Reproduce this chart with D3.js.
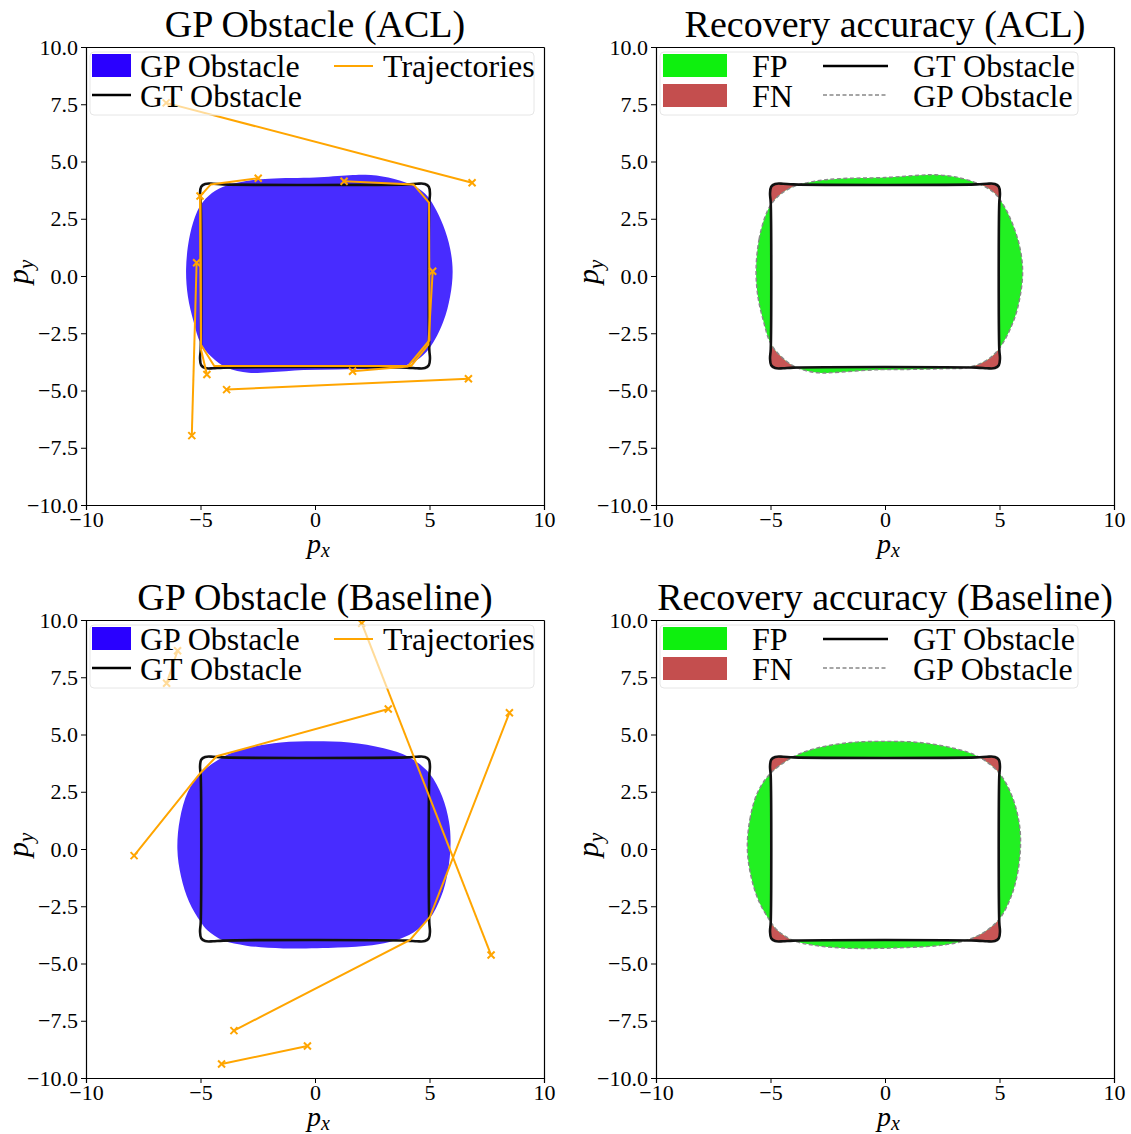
<!DOCTYPE html>
<head>
    <meta charset="utf-8">
    <style>
    body { margin: 0; background: #fff; }
    text { font-family: "Liberation Serif", "DejaVu Serif", serif; fill: #000; }
    .domain { stroke: #000; stroke-width: 1.2px; }
    .tick line { stroke: #000; stroke-width: 1px; }
    .tick text { font-family: "Liberation Serif", serif; font-size: 22px; }
    </style>
    <script src="https://d3js.org/d3.v7.min.js"></script>
</head>
<body>
    <svg width="1131" height="1134"></svg>
    <script>

    // ticks
    var xTicks = [-10, -5, 0, 5, 10];
    var yTicks = [-10, -7.5, -5, -2.5, 0, 2.5, 5, 7.5, 10];

    var gtOutline = [
      [-4.0, 4.0], [-4.45, 4.03], [-4.8, 4.02], [-4.97, 3.9], [-5.02, 3.6], [-4.99, 3.2],
      [-4.99, -3.2], [-5.02, -3.6], [-4.97, -3.9], [-4.8, -4.02], [-4.45, -4.03], [-4.0, -4.0],
      [4.0, -4.0], [4.45, -4.03], [4.8, -4.02], [4.97, -3.9], [5.02, -3.6], [4.99, -3.2],
      [4.99, 3.2], [5.02, 3.6], [4.97, 3.9], [4.8, 4.02], [4.45, 4.03], [4.0, 4.0]
    ];

    // GP obstacle boundary, ACL
    var gpAcl = [
      [-5.63, 0.3], [-5.5, 1.6], [-5.25, 2.55], [-4.99, 3.1], [-4.5, 3.62], [-3.86, 3.95],
      [-3.0, 4.15], [-2.0, 4.25], [0, 4.3], [1.5, 4.4], [2.2, 4.42], [3.2, 4.3], [4.22, 3.97],
      [4.8, 3.6], [5.2, 3.05], [5.6, 2.2], [5.9, 1.2], [6.01, 0.2], [5.9, -0.9], [5.6, -2.0],
      [5.0, -3.15], [4.4, -3.7], [3.57, -4.0], [2.5, -4.05], [1.0, -4.08], [-0.5, -4.1],
      [-2.0, -4.2], [-2.9, -4.23], [-3.86, -4.0], [-4.5, -3.55], [-4.99, -2.95], [-5.3, -2.0],
      [-5.55, -0.9]
    ];

    // GP obstacle boundary, baseline
    var gpBase = [
      [-6.01, 0.0], [-5.9, 1.3], [-5.55, 2.5], [-5.0, 3.3], [-4.0, 4.03], [-3.0, 4.4],
      [-1.5, 4.65], [0, 4.7], [1.5, 4.65], [3.0, 4.4], [4.08, 4.03], [5.0, 3.3], [5.55, 2.3],
      [5.85, 1.2], [5.92, 0.25], [5.8, -1.0], [5.5, -2.1], [5.0, -3.05], [4.3, -3.65],
      [3.49, -4.0], [2.5, -4.2], [1.0, -4.3], [-1.38, -4.34], [-3.0, -4.22], [-4.0, -4.0],
      [-4.7, -3.55], [-5.0, -3.17], [-5.5, -2.3], [-5.85, -1.2]
    ];

    // trajectories, ACL
    var trajAcl = [
      [[-6.5, 7.56], [6.86, 4.07]],
      [[-5.38, -6.97], [-5.17, 0.58]],
      [[-2.48, 4.27], [-4.55, 4.0], [-5.0, 3.5], [-4.98, -3.2], [-4.72, -4.3]],
      [[-5.02, 3.49], [-4.98, -3.0], [-4.4, -3.93], [4.2, -3.93], [4.95, -3.0], [5.14, 0.21]],
      [[1.27, 4.14], [4.3, 4.0], [4.98, 3.2], [5.0, -2.8], [4.05, -3.95], [1.64, -4.16]],
      [[-3.86, -4.96], [6.7, -4.49]]
    ];

    // trajectories, baseline
    var trajBase = [
      [[-6.0, 8.66], [-6.48, 7.24]],
      [[2.04, 9.86], [7.69, -4.63]],
      [[-7.9, -0.29], [-5.02, 3.3], [-4.29, 4.05], [3.2, 6.11]],
      [[8.49, 5.95], [5.02, -2.96], [4.15, -3.97], [-3.54, -7.93]],
      [[-4.08, -9.39], [-0.33, -8.6]]
    ];

    var svg = d3.select("svg"),
        size = 458;

    var x = d3.scaleLinear().domain([-10, 10]).range([0, size]),
        y = d3.scaleLinear().domain([-10, 10]).range([size, 0]);

    var shapeLine = d3.line().x(function(d) { return x(d[0]); }).y(function(d) { return y(d[1]); })
        .curve(d3.curveCatmullRomClosed);
    var trajLine = d3.line().x(function(d) { return x(d[0]); }).y(function(d) { return y(d[1]); });

    var panels = [
      {left: 86, top: 47, title: "GP Obstacle (ACL)", kind: "gp", blob: gpAcl, traj: trajAcl},
      {left: 656, top: 47, title: "Recovery accuracy (ACL)", kind: "acc", blob: gpAcl},
      {left: 86, top: 620, title: "GP Obstacle (Baseline)", kind: "gp", blob: gpBase, traj: trajBase},
      {left: 656, top: 620, title: "Recovery accuracy (Baseline)", kind: "acc", blob: gpBase}
    ];

    var defs = svg.append("defs");

    panels.forEach(function(p, i) {
      var g = svg.append("g").attr("transform", "translate(" + p.left + "," + p.top + ")");

      defs.append("clipPath").attr("id", "clip" + i)
        .append("rect").attr("width", size).attr("height", size);
      defs.append("clipPath").attr("id", "blob" + i)
        .append("path").attr("d", shapeLine(p.blob));

      var plot = g.append("g").attr("clip-path", "url(#clip" + i + ")");

      if (p.kind == "gp") {
        plot.append("path").attr("d", shapeLine(p.blob)).attr("fill", "#482cff");
        plot.append("path").attr("d", shapeLine(gtOutline))
            .attr("fill", "none").attr("stroke", "#111").attr("stroke-width", 2.6);
        p.traj.forEach(function(t) {
          plot.append("path").attr("d", trajLine(t))
              .attr("fill", "none").attr("stroke", "#ffa500").attr("stroke-width", 2);
          [t[0], t[t.length - 1]].forEach(function(m) {
            plot.append("path")
                .attr("transform", "translate(" + x(m[0]) + "," + y(m[1]) + ")")
                .attr("d", "M-3.5,-3.5L3.5,3.5M-3.5,3.5L3.5,-3.5")
                .attr("stroke", "#ffa500").attr("stroke-width", 2);
          });
        });
      } else {
        plot.append("path").attr("d", shapeLine(gtOutline)).attr("fill", "#c85555");
        plot.append("path").attr("d", shapeLine(p.blob)).attr("fill", "#22f022");
        plot.append("path").attr("d", shapeLine(gtOutline)).attr("fill", "#fff")
            .attr("clip-path", "url(#blob" + i + ")");
        plot.append("path").attr("d", shapeLine(p.blob))
            .attr("fill", "none").attr("stroke", "#888").attr("stroke-width", 1.4)
            .attr("stroke-dasharray", "4,2.5");
        plot.append("path").attr("d", shapeLine(gtOutline))
            .attr("fill", "none").attr("stroke", "#111").attr("stroke-width", 2.6);
      }

      // axes
      g.append("g").attr("transform", "translate(0," + size + ")")
          .call(d3.axisBottom(x).tickValues(xTicks).tickSize(5).tickPadding(1).tickFormat(d3.format("d")));
      g.append("g")
          .call(d3.axisLeft(y).tickValues(yTicks).tickSize(5).tickPadding(3).tickFormat(d3.format(".1f")));
      g.append("g").attr("transform", "translate(" + size + ",0)")
          .call(d3.axisRight(y).tickValues([]).tickSizeOuter(0));
      g.append("g")
          .call(d3.axisTop(x).tickValues([]).tickSizeOuter(0));
      g.selectAll(".tick text").attr("font-family", null).attr("font-size", null);
      g.selectAll(".domain").attr("stroke", "#000");

      // title
      g.append("text").attr("x", size / 2).attr("y", -10)
          .attr("text-anchor", "middle").style("font-size", "38px").text(p.title);

      // axis labels
      var xl = g.append("text").attr("x", size / 2 - 8).attr("y", size + 48)
          .style("font-size", "28px");
      xl.append("tspan").style("font-style", "italic").text("p");
      xl.append("tspan").style("font-style", "italic").style("font-size", "20px").attr("dy", 4).text("x");
      var yl = g.append("text")
          .attr("transform", "translate(-58," + (size / 2 + 8) + ") rotate(-90)")
          .style("font-size", "30px");
      yl.append("tspan").style("font-style", "italic").text("p");
      yl.append("tspan").style("font-style", "italic").style("font-size", "21px").attr("dy", 5).text("y");

      // legend
      var lg = g.append("g").attr("transform", "translate(4,5)");
      if (p.kind == "gp") {
        lg.append("rect").attr("width", 444).attr("height", 63).attr("rx", 4)
            .attr("fill", "#fff").attr("fill-opacity", 0.6).attr("stroke", "#e6e6e6");
        lg.append("rect").attr("x", 2).attr("y", 2).attr("width", 39).attr("height", 23).attr("fill", "#2a00ff");
        lg.append("line").attr("x1", 2).attr("x2", 41).attr("y1", 43).attr("y2", 43)
            .attr("stroke", "#000").attr("stroke-width", 2.6);
        lg.append("line").attr("x1", 244).attr("x2", 283).attr("y1", 14).attr("y2", 14)
            .attr("stroke", "#ffa500").attr("stroke-width", 2);
        lg.append("text").attr("x", 50).attr("y", 25).style("font-size", "32px").text("GP Obstacle");
        lg.append("text").attr("x", 50).attr("y", 55).style("font-size", "32px").text("GT Obstacle");
        lg.append("text").attr("x", 293).attr("y", 25).style("font-size", "32px").text("Trajectories");
      } else {
        lg.append("rect").attr("width", 418).attr("height", 63).attr("rx", 4)
            .attr("fill", "#fff").attr("fill-opacity", 0.6).attr("stroke", "#e6e6e6");
        lg.append("rect").attr("x", 3).attr("y", 2).attr("width", 64).attr("height", 23).attr("fill", "#0ef00e");
        lg.append("rect").attr("x", 3).attr("y", 32).attr("width", 64).attr("height", 23).attr("fill", "#c44e4e");
        lg.append("line").attr("x1", 163).attr("x2", 228).attr("y1", 14).attr("y2", 14)
            .attr("stroke", "#000").attr("stroke-width", 2.6);
        lg.append("line").attr("x1", 163).attr("x2", 228).attr("y1", 43).attr("y2", 43)
            .attr("stroke", "#888").attr("stroke-width", 1.4).attr("stroke-dasharray", "4,2.5");
        lg.append("text").attr("x", 92).attr("y", 25).style("font-size", "32px").text("FP");
        lg.append("text").attr("x", 92).attr("y", 55).style("font-size", "32px").text("FN");
        lg.append("text").attr("x", 253).attr("y", 25).style("font-size", "32px").text("GT Obstacle");
        lg.append("text").attr("x", 253).attr("y", 55).style("font-size", "32px").text("GP Obstacle");
      }
    });

    </script>
</body>
